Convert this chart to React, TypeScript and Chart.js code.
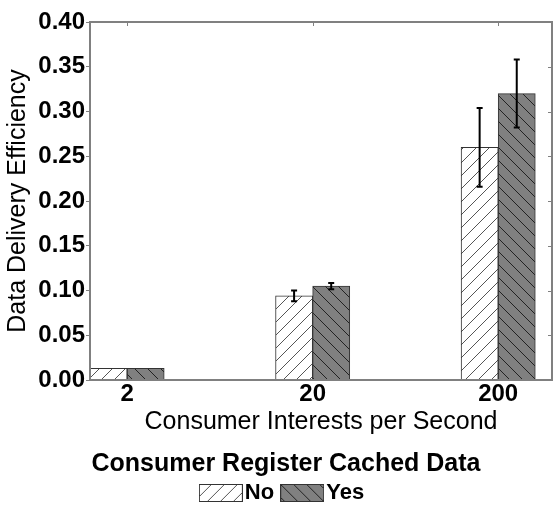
import React, { useEffect, useRef } from "react";
import { Chart, registerables } from "chart.js";

Chart.register(...registerables);

// ---- data ----
const categories = ["2", "20", "200"];
const seriesNames = ["No", "Yes"];
const noValues = [0.013, 0.094, 0.26];
const yesValues = [0.013, 0.105, 0.32];
const noErrors = [0, 0.006, 0.044];
const yesErrors = [0, 0.0035, 0.038];
const yTicks = [0, 0.05, 0.1, 0.15, 0.2, 0.25, 0.3, 0.35, 0.4];
const xTitle = "Consumer Interests per Second";
const yTitle = "Data Delivery Efficiency";
const legendTitle = "Consumer Register Cached Data";

const FONT = "'Liberation Sans', Arial, Helvetica, sans-serif";
const FRAME = "#808080";

function makePattern(kind: "fwd" | "back"): CanvasPattern {
  const s = 13;
  const c = document.createElement("canvas");
  c.width = s;
  c.height = s;
  const g = c.getContext("2d")!;
  g.fillStyle = kind === "fwd" ? "#ffffff" : "#808080";
  g.fillRect(0, 0, s, s);
  g.strokeStyle = kind === "fwd" ? "#555555" : "#222222";
  g.lineWidth = 1;
  g.beginPath();
  for (const k of [-s, 0, s]) {
    if (kind === "fwd") {
      g.moveTo(k, s);
      g.lineTo(k + s, 0);
    } else {
      g.moveTo(k, 0);
      g.lineTo(k + s, s);
    }
  }
  g.stroke();
  return g.createPattern(c, "repeat")!;
}

function makeLegendImage(pattern: CanvasPattern): HTMLCanvasElement {
  const c = document.createElement("canvas");
  c.width = 44;
  c.height = 18;
  const g = c.getContext("2d")!;
  g.fillStyle = pattern;
  g.fillRect(0, 0, 44, 18);
  g.strokeStyle = "#333333";
  g.lineWidth = 1;
  g.strokeRect(0.5, 0.5, 43, 17);
  return c;
}

export default function App() {
  const ref = useRef<HTMLCanvasElement | null>(null);

  useEffect(() => {
    if (!ref.current) return;
    const noPattern = makePattern("fwd");
    const yesPattern = makePattern("back");
    const patterns = [noPattern, yesPattern];
    const legendImgs = patterns.map(makeLegendImage);
    const errorSets = [noErrors, yesErrors];

    const errorPlugin = {
      id: "errorBars",
      afterDatasetsDraw(chart: any) {
        const ctx = chart.ctx;
        const ys = chart.scales.y;
        ctx.save();
        ctx.strokeStyle = "#000";
        ctx.lineWidth = 2;
        chart.data.datasets.forEach((ds: any, di: number) => {
          const meta = chart.getDatasetMeta(di);
          ds.data.forEach((pt: any, j: number) => {
            const e = errorSets[di][j];
            if (!e) return;
            const x = meta.data[j].x;
            const yHi = ys.getPixelForValue(pt.y + e);
            const yLo = ys.getPixelForValue(pt.y - e);
            ctx.beginPath();
            ctx.moveTo(x, yHi);
            ctx.lineTo(x, yLo);
            ctx.moveTo(x - 3, yHi);
            ctx.lineTo(x + 3, yHi);
            ctx.moveTo(x - 3, yLo);
            ctx.lineTo(x + 3, yLo);
            ctx.stroke();
          });
        });
        ctx.restore();
      },
    };

    const framePlugin = {
      id: "frame",
      afterDatasetsDraw(chart: any) {
        const { left, right, top, bottom } = chart.chartArea;
        const ctx = chart.ctx;
        const xs = chart.scales.x;
        const ys = chart.scales.y;
        ctx.save();
        ctx.strokeStyle = FRAME;
        ctx.lineWidth = 1;
        ctx.beginPath();
        yTicks.forEach((v) => {
          const y = Math.round(ys.getPixelForValue(v)) + 0.5;
          ctx.moveTo(right, y);
          ctx.lineTo(right - 4, y);
        });
        categories.forEach((_, i) => {
          const x = Math.round(xs.getPixelForValue(i)) + 0.5;
          ctx.moveTo(x, top);
          ctx.lineTo(x, top + 4);
        });
        ctx.stroke();
        ctx.lineWidth = 2;
        ctx.strokeRect(left, top, right - left, bottom - top);
        ctx.restore();
      },
    };

    Chart.defaults.font.family = FONT;
    Chart.defaults.color = "#000";

    const chart = new Chart(ref.current, {
      type: "bar",
      data: {
        datasets: [
          {
            label: seriesNames[0],
            data: noValues.map((v, i) => ({ x: i - 0.1, y: v })),
            backgroundColor: noPattern,
            borderColor: "#333333",
            borderWidth: 1,
            grouped: false,
            barPercentage: 1,
            categoryPercentage: 1,
          } as any,
          {
            label: seriesNames[1],
            data: yesValues.map((v, i) => ({ x: i + 0.1, y: v })),
            backgroundColor: yesPattern,
            borderColor: "#333333",
            borderWidth: 1,
            grouped: false,
            barPercentage: 1,
            categoryPercentage: 1,
          } as any,
        ],
      },
      options: {
        animation: false,
        responsive: false,
        maintainAspectRatio: false,
        layout: { padding: { left: 20, right: 6, top: 22, bottom: 3 } },
        plugins: {
          tooltip: { enabled: false },
          legend: {
            position: "bottom",
            align: "center",
            title: {
              display: true,
              text: legendTitle,
              color: "#000",
              font: { size: 25, weight: "bold", family: FONT },
              padding: { top: 14.5, bottom: -14.5 } as any,
            },
            labels: {
              usePointStyle: true,
              pointStyleWidth: 26,
              padding: 15,
              color: "#000",
              font: { size: 22, weight: "bold", family: FONT },
              generateLabels: (ch: any) =>
                ch.data.datasets.map((ds: any, i: number) => ({
                  text: ds.label,
                  pointStyle: legendImgs[i],
                  fillStyle: "#fff",
                  strokeStyle: "#333",
                  lineWidth: 0,
                  hidden: false,
                  datasetIndex: i,
                  fontColor: "#000",
                })),
            },
          },
        },
        scales: {
          x: {
            type: "linear",
            min: -0.2,
            max: 2.29,
            offset: false,
            afterBuildTicks: (s: any) => {
              s.ticks = categories.map((_, i) => ({ value: i }));
            },
            afterFit: (s: any) => {
              s.height = 57;
            },
            ticks: {
              callback: (v: any) => categories[Math.round(Number(v))],
              font: { size: 24, weight: "bold", family: FONT },
              color: "#000",
              padding: 0,
              maxRotation: 0,
              autoSkip: false,
            },
            grid: { display: false, drawTicks: false },
            border: { display: false },
            title: {
              display: true,
              text: xTitle,
              color: "#000",
              font: { size: 25, family: FONT },
              padding: { top: 0, bottom: 0 },
            },
          } as any,
          y: {
            min: 0,
            max: 0.4,
            afterBuildTicks: (s: any) => {
              s.ticks = yTicks.map((v) => ({ value: v }));
            },
            afterFit: (s: any) => {
              s.width = 70;
            },
            ticks: {
              callback: (v: any) => Number(v).toFixed(2),
              font: { size: 24, weight: "bold", family: FONT },
              color: "#000",
              padding: 1,
            },
            grid: {
              drawOnChartArea: false,
              drawTicks: true,
              tickLength: 4,
              color: FRAME,
              lineWidth: 1,
            },
            border: { display: false },
            title: {
              display: true,
              text: yTitle,
              color: "#000",
              font: { size: 25, family: FONT },
              padding: { top: -17, bottom: 0 },
            },
          } as any,
        },
      },
      plugins: [errorPlugin, framePlugin],
    });

    return () => chart.destroy();
  }, []);

  return (
    <div style={{ position: "absolute", left: 0, top: 0, width: 558, height: 517, background: "#fff" }}>
      <canvas ref={ref} width={558} height={517} style={{ display: "block" }} />
    </div>
  );
}
